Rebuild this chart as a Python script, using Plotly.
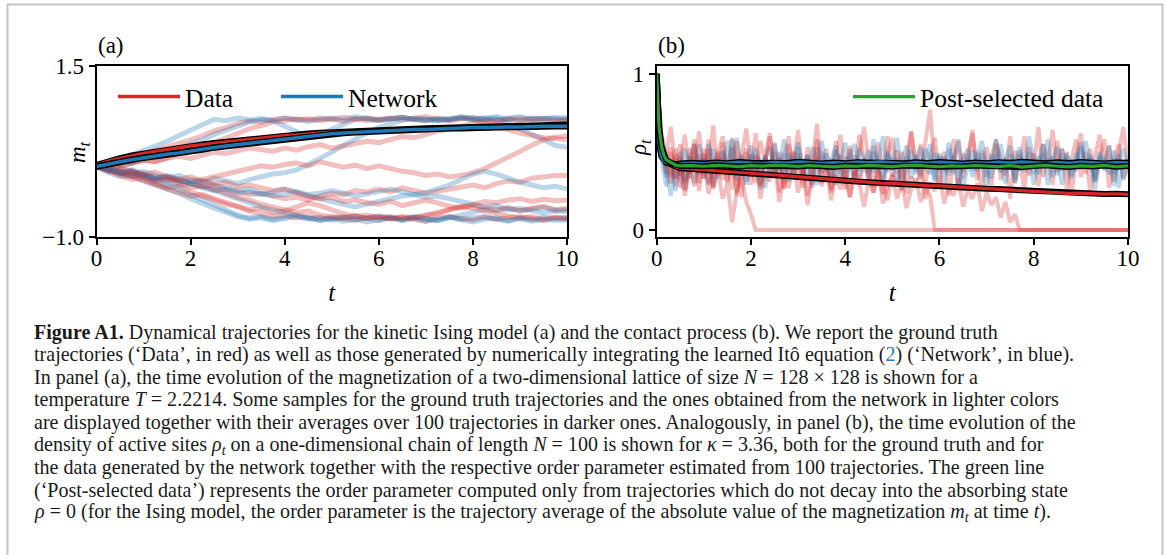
import numpy as np
import plotly.graph_objects as go

W, H = 1167, 555
SERIF = "Liberation Serif"
RED, BLUE, GREEN = "#d62728", "#1f77b4", "#2ca02c"

# ---------------- Panel (a): kinetic Ising model, magnetization m_t ----------------
t_ising = np.linspace(0, 10, 41)

ising_data_samples = [
    [0.03, 0.07, 0.12, 0.16, 0.22, 0.27, 0.31, 0.36, 0.42, 0.48, 0.55, 0.60, 0.66, 0.70, 0.68, 0.72,
     0.74, 0.71, 0.73, 0.70, 0.72, 0.75, 0.73, 0.70, 0.72, 0.74, 0.71, 0.73, 0.76, 0.72, 0.70, 0.73,
     0.75, 0.72, 0.70, 0.73, 0.74, 0.71, 0.73, 0.72, 0.70],
    [0.03, 0.00, 0.04, 0.08, 0.12, 0.10, 0.16, 0.22, 0.26, 0.33, 0.38, 0.45, 0.52, 0.58, 0.63, 0.68,
     0.70, 0.73, 0.71, 0.74, 0.72, 0.69, 0.72, 0.74, 0.71, 0.73, 0.75, 0.72, 0.70, 0.73, 0.71, 0.74,
     0.72, 0.66, 0.62, 0.57, 0.52, 0.48, 0.45, 0.44, 0.42],
    [0.03, 0.06, 0.02, 0.08, 0.12, 0.10, 0.15, 0.18, 0.15, 0.20, 0.24, 0.22, 0.26, 0.30, 0.28, 0.25,
     0.30, 0.27, 0.32, 0.35, 0.30, 0.33, 0.36, 0.40, 0.38, 0.42, 0.47, 0.45, 0.50, 0.55, 0.58, 0.62,
     0.66, 0.70, 0.68, 0.72, 0.70, 0.73, 0.71, 0.69, 0.72],
    [0.03, -0.02, -0.06, -0.04, -0.10, -0.14, -0.12, -0.18, -0.20, -0.16, -0.12, -0.08, -0.04, 0.00, 0.04, 0.02,
     0.06, 0.08, 0.04, 0.10, 0.06, 0.02, 0.05, 0.00, 0.04, 0.00, -0.04, -0.06, -0.10, -0.08, -0.12, -0.10,
     -0.06, 0.00, 0.08, 0.16, 0.25, 0.34, 0.42, 0.46, 0.48],
    [0.03, 0.00, -0.05, -0.10, -0.08, -0.14, -0.18, -0.16, -0.22, -0.26, -0.24, -0.30, -0.34, -0.38, -0.36, -0.40,
     -0.44, -0.42, -0.46, -0.40, -0.36, -0.38, -0.32, -0.34, -0.30, -0.34, -0.28, -0.32, -0.36, -0.33, -0.30, -0.27,
     -0.24, -0.28, -0.22, -0.18, -0.20, -0.14, -0.12, -0.10, -0.10],
    [0.03, -0.04, -0.10, -0.16, -0.14, -0.22, -0.28, -0.26, -0.34, -0.40, -0.46, -0.52, -0.56, -0.62, -0.66, -0.70,
     -0.68, -0.72, -0.70, -0.74, -0.71, -0.73, -0.76, -0.72, -0.70, -0.73, -0.71, -0.74, -0.77, -0.72, -0.70, -0.73,
     -0.75, -0.71, -0.74, -0.72, -0.70, -0.73, -0.76, -0.72, -0.74],
    [0.03, 0.00, -0.06, -0.12, -0.18, -0.24, -0.30, -0.35, -0.40, -0.38, -0.44, -0.50, -0.55, -0.60, -0.58, -0.64,
     -0.62, -0.56, -0.50, -0.54, -0.60, -0.66, -0.70, -0.68, -0.72, -0.70, -0.74, -0.71, -0.68, -0.66, -0.60, -0.55,
     -0.58, -0.62, -0.66, -0.70, -0.73, -0.70, -0.74, -0.71, -0.72],
    [0.03, -0.02, -0.08, -0.05, -0.12, -0.18, -0.15, -0.22, -0.28, -0.25, -0.30, -0.36, -0.42, -0.46, -0.52, -0.56,
     -0.60, -0.64, -0.62, -0.68, -0.70, -0.72, -0.69, -0.73, -0.71, -0.74, -0.70, -0.72, -0.68, -0.64, -0.60, -0.56,
     -0.52, -0.48, -0.50, -0.46, -0.44, -0.48, -0.45, -0.47, -0.46],
    [0.03, 0.06, 0.01, -0.03, -0.08, -0.05, -0.12, -0.16, -0.12, -0.18, -0.22, -0.20, -0.26, -0.24, -0.28, -0.32,
     -0.30, -0.36, -0.40, -0.44, -0.42, -0.48, -0.46, -0.50, -0.52, -0.48, -0.54, -0.50, -0.46, -0.50, -0.55, -0.58,
     -0.54, -0.56, -0.60, -0.57, -0.62, -0.58, -0.55, -0.60, -0.58],
]

ising_network_samples = [
    [0.03, 0.08, 0.14, 0.20, 0.26, 0.33, 0.40, 0.48, 0.56, 0.64, 0.72, 0.70, 0.74, 0.71, 0.73, 0.70,
     0.62, 0.52, 0.46, 0.50, 0.58, 0.66, 0.72, 0.74, 0.71, 0.73, 0.75, 0.72, 0.70, 0.74, 0.72, 0.76,
     0.73, 0.71, 0.74, 0.66, 0.58, 0.50, 0.40, 0.34, 0.31],
    [0.03, 0.00, -0.04, -0.08, -0.04, -0.10, -0.14, -0.10, -0.16, -0.20, -0.14, -0.18, -0.22, -0.16, -0.12, -0.08,
     -0.06, -0.02, 0.06, 0.14, 0.24, 0.34, 0.44, 0.52, 0.60, 0.66, 0.71, 0.74, 0.72, 0.70, 0.73, 0.75,
     0.72, 0.74, 0.71, 0.73, 0.76, 0.72, 0.74, 0.72, 0.73],
    [0.03, 0.05, 0.10, 0.08, 0.14, 0.18, 0.24, 0.30, 0.36, 0.42, 0.50, 0.56, 0.62, 0.68, 0.72, 0.70,
     0.74, 0.72, 0.69, 0.72, 0.74, 0.71, 0.76, 0.73, 0.70, 0.72, 0.75, 0.71, 0.73, 0.70, 0.72, 0.74,
     0.71, 0.73, 0.76, 0.72, 0.70, 0.74, 0.73, 0.75, 0.74],
    [0.03, -0.06, -0.12, -0.10, -0.18, -0.24, -0.30, -0.36, -0.44, -0.52, -0.58, -0.64, -0.70, -0.74, -0.72, -0.76,
     -0.73, -0.70, -0.74, -0.71, -0.75, -0.72, -0.69, -0.73, -0.76, -0.72, -0.74, -0.70, -0.73, -0.76, -0.71, -0.74,
     -0.72, -0.70, -0.74, -0.77, -0.72, -0.75, -0.71, -0.73, -0.72],
    [0.03, -0.02, -0.08, -0.12, -0.10, -0.16, -0.20, -0.24, -0.22, -0.28, -0.32, -0.30, -0.36, -0.34, -0.38, -0.34,
     -0.30, -0.34, -0.38, -0.36, -0.32, -0.36, -0.40, -0.37, -0.34, -0.30, -0.34, -0.38, -0.35, -0.30, -0.24, -0.16,
     -0.08, -0.04, -0.08, -0.14, -0.20, -0.24, -0.28, -0.26, -0.30],
    [0.03, -0.04, 0.00, -0.06, -0.12, -0.18, -0.24, -0.30, -0.38, -0.46, -0.54, -0.62, -0.68, -0.72, -0.70, -0.74,
     -0.71, -0.68, -0.72, -0.75, -0.73, -0.70, -0.74, -0.72, -0.69, -0.72, -0.75, -0.71, -0.73, -0.76, -0.72, -0.68,
     -0.64, -0.60, -0.62, -0.58, -0.62, -0.60, -0.57, -0.61, -0.60],
    [0.03, -0.02, -0.06, -0.03, -0.10, -0.14, -0.12, -0.18, -0.22, -0.26, -0.32, -0.38, -0.44, -0.50, -0.56, -0.60,
     -0.64, -0.68, -0.72, -0.76, -0.73, -0.77, -0.74, -0.78, -0.75, -0.72, -0.76, -0.73, -0.77, -0.74, -0.71, -0.75,
     -0.78, -0.74, -0.72, -0.76, -0.73, -0.77, -0.74, -0.76, -0.75],
    [0.03, 0.00, -0.06, -0.02, -0.08, -0.14, -0.10, -0.16, -0.20, -0.18, -0.24, -0.28, -0.32, -0.30, -0.36, -0.40,
     -0.38, -0.34, -0.40, -0.44, -0.48, -0.52, -0.56, -0.52, -0.48, -0.44, -0.40, -0.38, -0.42, -0.40, -0.44, -0.48,
     -0.52, -0.56, -0.54, -0.60, -0.58, -0.62, -0.65, -0.62, -0.63],
]

ising_data_mean = [
    0.05, 0.11, 0.15, 0.19, 0.22, 0.25, 0.28, 0.30, 0.33, 0.35, 0.37, 0.39, 0.41, 0.43, 0.45, 0.46,
    0.48, 0.49, 0.51, 0.52, 0.53, 0.54, 0.55, 0.56, 0.565, 0.57, 0.575, 0.58, 0.585, 0.59, 0.595, 0.60,
    0.605, 0.61, 0.615, 0.62, 0.625, 0.63, 0.635, 0.64, 0.64]
ising_network_mean = [
    0.03, 0.07, 0.10, 0.13, 0.16, 0.18, 0.21, 0.23, 0.26, 0.28, 0.31, 0.33, 0.35, 0.38, 0.40, 0.42,
    0.44, 0.46, 0.48, 0.49, 0.51, 0.52, 0.53, 0.54, 0.55, 0.55, 0.56, 0.57, 0.57, 0.58, 0.59, 0.59,
    0.60, 0.60, 0.61, 0.61, 0.61, 0.62, 0.62, 0.62, 0.62]

# ---------------- Panel (b): contact process, density of active sites rho_t ----------------
t_cp = np.linspace(0, 10, 101)

# trajectories that stay active up to t = 10
cp_data_active = [
    [1.00, 0.62, 0.48, 0.66, 0.40, 0.55, 0.31, 0.52, 0.44, 0.63, 0.35, 0.58, 0.27, 0.49, 0.60, 0.38, 0.53,
     0.22, 0.47, 0.65, 0.41, 0.30, 0.57, 0.45, 0.62, 0.33, 0.50, 0.26, 0.55, 0.42, 0.64, 0.36, 0.48, 0.29,
     0.58, 0.40, 0.52, 0.24, 0.46, 0.61, 0.37, 0.54, 0.31, 0.49, 0.66, 0.43, 0.28, 0.56, 0.39, 0.60, 0.34,
     0.51, 0.25, 0.47, 0.63, 0.38, 0.55, 0.30, 0.44, 0.59, 0.36, 0.50, 0.22, 0.45, 0.57, 0.33, 0.48, 0.62,
     0.40, 0.27, 0.53, 0.41, 0.58, 0.32, 0.46, 0.20, 0.51, 0.38, 0.60, 0.35, 0.49, 0.28, 0.55, 0.42, 0.64,
     0.37, 0.52, 0.26, 0.45, 0.58, 0.34, 0.50, 0.23, 0.47, 0.61, 0.39, 0.54, 0.31, 0.48, 0.66, 0.42],
    [1.00, 0.58, 0.36, 0.50, 0.28, 0.44, 0.61, 0.33, 0.47, 0.25, 0.52, 0.40, 0.67, 0.35, 0.46, 0.30, 0.59,
     0.43, 0.21, 0.50, 0.38, 0.62, 0.29, 0.48, 0.36, 0.55, 0.24, 0.45, 0.60, 0.34, 0.49, 0.27, 0.53, 0.41,
     0.68, 0.37, 0.44, 0.31, 0.57, 0.40, 0.26, 0.52, 0.35, 0.61, 0.45, 0.30, 0.54, 0.38, 0.23, 0.48, 0.59,
     0.36, 0.50, 0.28, 0.63, 0.42, 0.33, 0.56, 0.77, 0.40, 0.29, 0.47, 0.37, 0.58, 0.25, 0.49, 0.43, 0.64,
     0.32, 0.51, 0.39, 0.27, 0.55, 0.44, 0.35, 0.60, 0.30, 0.48, 0.24, 0.53, 0.41, 0.66, 0.34, 0.46, 0.29,
     0.57, 0.38, 0.50, 0.22, 0.45, 0.62, 0.36, 0.52, 0.31, 0.47, 0.58, 0.27, 0.43, 0.55, 0.33, 0.40],
]
# trajectories that fall into the absorbing state rho = 0 (last value is the absorption)
cp_data_absorbed = [
    [1.00, 0.55, 0.42, 0.30, 0.48, 0.35, 0.22, 0.40, 0.28, 0.45, 0.33, 0.52, 0.26, 0.38, 0.20, 0.30,
     0.05, 0.25, 0.34, 0.18, 0.10, 0.0],
    [1.00, 0.60, 0.45, 0.34, 0.52, 0.27, 0.43, 0.36, 0.55, 0.30, 0.46, 0.23, 0.39, 0.50, 0.32, 0.44,
     0.26, 0.57, 0.35, 0.41, 0.29, 0.48, 0.20, 0.37, 0.31, 0.45, 0.18, 0.34, 0.27, 0.42, 0.24, 0.38,
     0.16, 0.33, 0.46, 0.28, 0.40, 0.19, 0.35, 0.26, 0.43, 0.21, 0.37, 0.30, 0.15, 0.32, 0.24, 0.39,
     0.17, 0.28, 0.35, 0.20, 0.31, 0.14, 0.26, 0.33, 0.18, 0.27, 0.22, 0.0],
    [1.00, 0.57, 0.40, 0.53, 0.33, 0.47, 0.25, 0.42, 0.58, 0.36, 0.49, 0.29, 0.44, 0.37, 0.56, 0.31,
     0.45, 0.24, 0.40, 0.52, 0.34, 0.47, 0.28, 0.43, 0.60, 0.35, 0.46, 0.27, 0.41, 0.50, 0.32, 0.44,
     0.22, 0.39, 0.53, 0.30, 0.42, 0.26, 0.37, 0.48, 0.33, 0.21, 0.40, 0.29, 0.45, 0.35, 0.24, 0.38,
     0.31, 0.19, 0.36, 0.28, 0.42, 0.23, 0.34, 0.27, 0.39, 0.20, 0.30, 0.25, 0.35, 0.17, 0.29, 0.22,
     0.33, 0.15, 0.26, 0.20, 0.30, 0.12, 0.24, 0.16, 0.21, 0.08, 0.18, 0.05, 0.10, 0.0],
]
cp_network_samples = [
    [1.00, 0.50, 0.38, 0.22, 0.45, 0.35, 0.52, 0.41, 0.30, 0.48, 0.37, 0.55, 0.44, 0.33, 0.50, 0.40, 0.58,
     0.36, 0.46, 0.29, 0.43, 0.52, 0.38, 0.47, 0.34, 0.56, 0.42, 0.49, 0.31, 0.45, 0.53, 0.39, 0.48, 0.27,
     0.44, 0.57, 0.40, 0.35, 0.51, 0.43, 0.30, 0.47, 0.55, 0.38, 0.45, 0.33, 0.50, 0.42, 0.60, 0.37, 0.46,
     0.28, 0.43, 0.54, 0.39, 0.48, 0.35, 0.52, 0.44, 0.31, 0.47, 0.40, 0.56, 0.36, 0.45, 0.25, 0.42, 0.51,
     0.38, 0.49, 0.34, 0.46, 0.58, 0.41, 0.30, 0.48, 0.43, 0.53, 0.37, 0.45, 0.29, 0.44, 0.55, 0.40, 0.47,
     0.35, 0.52, 0.42, 0.33, 0.49, 0.39, 0.57, 0.44, 0.26, 0.46, 0.41, 0.54, 0.36, 0.48, 0.32, 0.43],
    [1.00, 0.46, 0.28, 0.40, 0.33, 0.50, 0.26, 0.44, 0.55, 0.37, 0.45, 0.30, 0.52, 0.41, 0.36, 0.57, 0.43,
     0.32, 0.48, 0.39, 0.54, 0.35, 0.46, 0.27, 0.42, 0.50, 0.38, 0.58, 0.44, 0.34, 0.47, 0.40, 0.31, 0.53,
     0.45, 0.36, 0.49, 0.42, 0.29, 0.46, 0.56, 0.39, 0.48, 0.34, 0.43, 0.51, 0.37, 0.45, 0.28, 0.50, 0.41,
     0.59, 0.38, 0.47, 0.33, 0.44, 0.53, 0.40, 0.36, 0.49, 0.45, 0.30, 0.52, 0.42, 0.58, 0.37, 0.46, 0.34,
     0.50, 0.41, 0.27, 0.48, 0.43, 0.55, 0.38, 0.45, 0.32, 0.51, 0.40, 0.60, 0.44, 0.36, 0.49, 0.29, 0.46,
     0.53, 0.39, 0.47, 0.35, 0.43, 0.56, 0.41, 0.48, 0.33, 0.50, 0.38, 0.45, 0.28, 0.44, 0.52, 0.40],
    [1.00, 0.52, 0.34, 0.45, 0.25, 0.40, 0.30, 0.47, 0.38, 0.55, 0.33, 0.46, 0.28, 0.42, 0.51, 0.36, 0.44,
     0.59, 0.39, 0.31, 0.48, 0.42, 0.26, 0.45, 0.53, 0.37, 0.43, 0.32, 0.49, 0.40, 0.56, 0.35, 0.46, 0.41,
     0.29, 0.50, 0.38, 0.44, 0.54, 0.33, 0.47, 0.40, 0.31, 0.52, 0.45, 0.37, 0.58, 0.42, 0.34, 0.48, 0.39,
     0.46, 0.26, 0.43, 0.51, 0.36, 0.45, 0.40, 0.55, 0.32, 0.49, 0.41, 0.35, 0.47, 0.28, 0.44, 0.52, 0.38,
     0.46, 0.57, 0.42, 0.33, 0.48, 0.37, 0.45, 0.54, 0.30, 0.43, 0.39, 0.50, 0.36, 0.47, 0.41, 0.58, 0.34,
     0.45, 0.29, 0.49, 0.42, 0.38, 0.53, 0.40, 0.46, 0.31, 0.48, 0.44, 0.36, 0.51, 0.27, 0.43, 0.45],
]

# order parameters averaged over 100 trajectories (finer sampling at early times)
t_cp_mean = np.concatenate([[0.0, 0.02, 0.05, 0.1, 0.15, 0.2, 0.3, 0.4, 0.5], np.linspace(0.75, 10, 38)])
cp_data_mean = [
    1.00, 0.80, 0.64, 0.52, 0.47, 0.44, 0.42, 0.405, 0.395,
    0.39, 0.385, 0.38, 0.376, 0.372, 0.362, 0.358, 0.352, 0.346, 0.34, 0.335, 0.328, 0.322, 0.313,
    0.31, 0.305, 0.30, 0.298, 0.292, 0.288, 0.284, 0.282, 0.278, 0.272, 0.268, 0.264, 0.262, 0.258,
    0.254, 0.25, 0.246, 0.24, 0.234, 0.236, 0.232, 0.23, 0.232, 0.228]
cp_network_mean = [
    1.00, 0.72, 0.55, 0.47, 0.44, 0.43, 0.425, 0.42, 0.425,
    0.43, 0.425, 0.432, 0.428, 0.435, 0.43, 0.427, 0.433, 0.429, 0.436, 0.43, 0.426, 0.432, 0.428,
    0.434, 0.431, 0.437, 0.43, 0.427, 0.433, 0.429, 0.435, 0.43, 0.426, 0.432, 0.428, 0.434, 0.43,
    0.436, 0.431, 0.427, 0.433, 0.429, 0.435, 0.43, 0.426, 0.432, 0.43]
cp_postselected_mean = [
    1.00, 0.82, 0.66, 0.54, 0.48, 0.45, 0.43, 0.415, 0.41,
    0.412, 0.408, 0.414, 0.41, 0.406, 0.412, 0.409, 0.415, 0.41, 0.407, 0.413, 0.409, 0.404, 0.411,
    0.408, 0.414, 0.41, 0.406, 0.412, 0.415, 0.409, 0.405, 0.411, 0.408, 0.413, 0.41, 0.406, 0.412,
    0.403, 0.409, 0.414, 0.408, 0.404, 0.411, 0.407, 0.413, 0.405, 0.41]

# ---------------- Caption ----------------
caption_lines = [
    "<b>Figure A1.</b> Dynamical trajectories for the kinetic Ising model (a) and the contact process (b). We report the ground truth",
    "trajectories (‘Data’, in red) as well as those generated by numerically integrating the learned Itô equation "
    "(<span style='color:#2b7bba'>2</span>) (‘Network’, in blue).",
    "In panel (a), the time evolution of the magnetization of a two-dimensional lattice of size <i>N</i> = 128 × 128 is shown for a",
    "temperature <i>T</i> = 2.2214. Some samples for the ground truth trajectories and the ones obtained from the network in lighter colors",
    "are displayed together with their averages over 100 trajectories in darker ones. Analogously, in panel (b), the time evolution of the",
    "density of active sites <i>ρ<sub>t</sub></i> on a one-dimensional chain of length <i>N</i> = 100 is shown for <i>κ</i> = 3.36, both for the ground truth and for",
    "the data generated by the network together with the respective order parameter estimated from 100 trajectories. The green line",
    "(‘Post-selected data’) represents the order parameter computed only from trajectories which do not decay into the absorbing state",
    "<i>ρ</i> = 0 (for the Ising model, the order parameter is the trajectory average of the absolute value of the magnetization "
    "<i>m<sub>t</sub></i> at time <i>t</i>).",
]


def rgba(hex_color, alpha):
    h = hex_color.lstrip("#")
    r, g, b = (int(h[i:i + 2], 16) for i in (0, 2, 4))
    return f"rgba({r},{g},{b},{alpha})"


def px_x(p):
    return p / W


def px_y(p):
    return 1 - p / H


fig = go.Figure()

# panel (a) samples
for i in range(max(len(ising_data_samples), len(ising_network_samples))):
    for samples, col in ((ising_data_samples, RED), (ising_network_samples, BLUE)):
        if i < len(samples):
            fig.add_trace(go.Scatter(x=t_ising, y=samples[i], mode="lines", xaxis="x", yaxis="y",
                                     line=dict(color=rgba(col, 0.3), width=5), showlegend=False,
                                     hoverinfo="skip"))

# panel (a) averages with dark outline
for mean, col, name in ((ising_data_mean, RED, "Data"), (ising_network_mean, BLUE, "Network")):
    fig.add_trace(go.Scatter(x=t_ising, y=mean, mode="lines", xaxis="x", yaxis="y",
                             line=dict(color="black", width=6.5), showlegend=False, hoverinfo="skip"))
    fig.add_trace(go.Scatter(x=t_ising, y=mean, mode="lines", xaxis="x", yaxis="y", name=name,
                             line=dict(color=col, width=3.5), legend="legend"))

# panel (b) samples
for vals in cp_data_active:
    fig.add_trace(go.Scatter(x=t_cp, y=vals, mode="lines", xaxis="x2", yaxis="y2",
                             line=dict(color=rgba(RED, 0.3), width=4), showlegend=False, hoverinfo="skip"))
for vals in cp_network_samples:
    fig.add_trace(go.Scatter(x=t_cp, y=vals, mode="lines", xaxis="x2", yaxis="y2",
                             line=dict(color=rgba(BLUE, 0.3), width=4), showlegend=False, hoverinfo="skip"))
for vals in cp_data_absorbed:
    n = len(vals)
    xs = list(t_cp[:n]) + [t_cp[-1]]
    ys = list(vals) + [vals[-1]]
    fig.add_trace(go.Scatter(x=xs, y=ys, mode="lines", xaxis="x2", yaxis="y2",
                             line=dict(color=rgba(RED, 0.3), width=4), showlegend=False, hoverinfo="skip"))

# panel (b) order parameters
for mean, col, name, show in ((cp_data_mean, RED, "Data", False),
                              (cp_network_mean, BLUE, "Network", False),
                              (cp_postselected_mean, GREEN, "Post-selected data", True)):
    fig.add_trace(go.Scatter(x=t_cp_mean, y=mean, mode="lines", xaxis="x2", yaxis="y2",
                             line=dict(color="black", width=6), showlegend=False, hoverinfo="skip"))
    fig.add_trace(go.Scatter(x=t_cp_mean, y=mean, mode="lines", xaxis="x2", yaxis="y2", name=name,
                             line=dict(color=col, width=3.2), showlegend=show, legend="legend2"))

tick_font = dict(family=SERIF, size=23, color="black")
axis_common = dict(showline=True, mirror=True, linecolor="black", linewidth=2, ticks="outside",
                   ticklen=6, tickwidth=1.6, tickcolor="black", showgrid=False, zeroline=False,
                   tickfont=tick_font, automargin=False)
x_title = dict(text="<i>t</i>", font=dict(family=SERIF, size=25), standoff=14)

ya_dom = [px_y(237), px_y(66)]
fig.update_layout(
    width=W, height=H, autosize=False,
    margin=dict(l=0, r=0, t=0, b=0, pad=0, autoexpand=False),
    paper_bgcolor="white", plot_bgcolor="white",
    font=dict(family=SERIF, color="black"),
    xaxis=dict(domain=[px_x(96.5), px_x(567)], range=[0, 10], tickvals=[0, 2, 4, 6, 8, 10],
               title=x_title, anchor="y", ticklabelstandoff=-7, **axis_common),
    yaxis=dict(domain=ya_dom, range=[-1.0, 1.5], tickvals=[-1.0, 1.5], ticktext=["−1.0", "1.5"],
               anchor="x", **axis_common),
    xaxis2=dict(domain=[px_x(656.7), px_x(1128)], range=[0, 10], tickvals=[0, 2, 4, 6, 8, 10],
                title=x_title, anchor="y2", ticklabelstandoff=-7, **axis_common),
    yaxis2=dict(domain=ya_dom, range=[-0.045, 1.05], tickvals=[0, 1], ticktext=["0", "1"],
                anchor="x2", **axis_common),
    legend=dict(orientation="h", x=px_x(113), y=px_y(97), xanchor="left", yanchor="middle",
                bgcolor="rgba(0,0,0,0)", font=dict(family=SERIF, size=25.5), itemwidth=62,
                entrywidth=86, tracegroupgap=0),
    legend2=dict(orientation="h", x=px_x(848), y=px_y(97), xanchor="left", yanchor="middle",
                 bgcolor="rgba(0,0,0,0)", font=dict(family=SERIF, size=25.5), itemwidth=62),
)

annotations = [
    dict(text="(a)", x=px_x(96), y=px_y(45), xanchor="left", yanchor="middle"),
    dict(text="(b)", x=px_x(656), y=px_y(45), xanchor="left", yanchor="middle"),
    dict(text="<i>m</i><sub><i>t</i></sub>", x=px_x(79), y=px_y(152), textangle=-90,
         xanchor="center", yanchor="middle"),
    dict(text="<i>ρ</i><sub><i>t</i></sub>", x=px_x(640), y=px_y(148), textangle=-90,
         xanchor="center", yanchor="middle"),
]
for a in annotations:
    a.update(xref="paper", yref="paper", showarrow=False, font=dict(family=SERIF, size=23, color="black"))

for k, line in enumerate(caption_lines):
    annotations.append(dict(text=line, x=px_x(32), y=px_y(332 + 22.6 * k), xref="paper", yref="paper",
                            xanchor="left", yanchor="middle", showarrow=False, align="left",
                            font=dict(family=SERIF, size=20.05, color="#1a1a1a")))
fig.update_layout(annotations=annotations)

# outer frame of the figure box
fig.add_shape(type="rect", xref="paper", yref="paper", x0=px_x(7.5), x1=px_x(1162.5), y0=-0.05, y1=px_y(4.5),
              line=dict(color="#c4c4c4", width=2), fillcolor="rgba(0,0,0,0)", layer="below")

fig.write_html("out.html")
